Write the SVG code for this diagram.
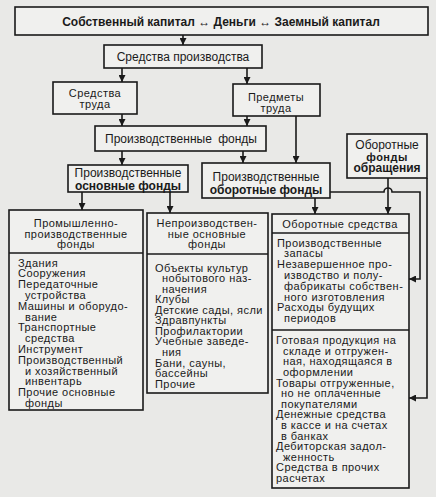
<svg xmlns="http://www.w3.org/2000/svg" width="436" height="497" viewBox="0 0 436 497">
<defs>
<marker id="ah" viewBox="0 0 10 10" refX="10" refY="5" markerWidth="7" markerHeight="7" markerUnits="userSpaceOnUse" orient="auto">
<path d="M0,0 L10,5 L0,10 Z" fill="#1a1a1a"/>
</marker>
<style>
.bx{fill:#f0f0ee;stroke:#1a1a1a;stroke-width:1.6}
.dv{stroke:#1a1a1a;stroke-width:1.3}
.t{font-family:"Liberation Sans",Arial,sans-serif;font-size:12px;fill:#1a1a1a}
.s{font-size:11px;letter-spacing:0.45px}
.b{font-weight:bold}
.c{text-anchor:middle}
.ln{fill:none;stroke:#1a1a1a;stroke-width:1.6}
</style>
</defs>
<rect width="436" height="497" fill="#e9e9e7"/>

<g id="connectors">
<path class="ln" d="M183,35 V45" marker-end="url(#ah)"/>
<path class="ln" d="M122,68 V82" marker-end="url(#ah)"/>
<path class="ln" d="M247,68 V84" marker-end="url(#ah)"/>
<path class="ln" d="M122,114 V126" marker-end="url(#ah)"/>
<path class="ln" d="M247,116 V126" marker-end="url(#ah)"/>
<path class="ln" d="M296,116 V163" marker-end="url(#ah)"/>
<path class="ln" d="M122,151 V165" marker-end="url(#ah)"/>
<path class="ln" d="M243,151 V163" marker-end="url(#ah)"/>
<path class="ln" d="M82,192 V210" marker-end="url(#ah)"/>
<path class="ln" d="M170,192 V213" marker-end="url(#ah)"/>
<path class="ln" d="M315,198 V214" marker-end="url(#ah)"/>
<path class="ln" d="M388,178 V214" marker-end="url(#ah)"/>
<path class="ln" d="M330,192 H384 A4,4 0 0 1 392,192 H420 V279 H409" marker-end="url(#ah)"/>
<path class="ln" d="M427,178 V398 H409" marker-end="url(#ah)"/>
</g>

<g id="top">
<rect class="bx" x="15" y="7" width="413" height="28"/>
<text class="t b c" x="221" y="26" font-size="12.5">Собственный капитал ↔ Деньги ↔ Заемный капитал</text>
</g>

<g id="sredstva-proizvodstva">
<rect class="bx" x="104" y="45" width="158" height="23"/>
<text class="t c" x="183" y="61">Средства производства</text>
</g>

<g id="sredstva-truda">
<rect class="bx" x="53" y="82" width="84" height="32"/>
<text class="t c s" x="95" y="97">Средства</text>
<text class="t c s" x="95" y="108">труда</text>
</g>

<g id="predmety-truda">
<rect class="bx" x="233" y="84" width="87" height="32"/>
<text class="t c s" x="276" y="101">Предметы</text>
<text class="t c s" x="276" y="112">труда</text>
</g>

<g id="proizv-fondy">
<rect class="bx" x="95" y="126" width="171" height="25"/>
<text class="t c" x="181" y="143" word-spacing="3">Производственные фонды</text>
</g>

<g id="proizv-osnovnye">
<rect class="bx" x="68" y="165" width="120" height="27"/>
<text class="t c" x="128" y="177">Производственные</text>
<text class="t b c" x="128" y="190">основные фонды</text>
</g>

<g id="proizv-oborotnye">
<rect class="bx" x="202" y="163" width="128" height="35"/>
<text class="t c" x="266" y="181">Производственные</text>
<text class="t b c" x="266" y="194">оборотные фонды</text>
</g>

<g id="fondy-obrashcheniya">
<rect class="bx" x="347" y="134" width="80" height="44"/>
<text class="t c" x="387" y="149">Оборотные</text>
<text class="t b c s" x="387" y="160.5">фонды</text>
<text class="t b c" x="387" y="172">обращения</text>
</g>

<g id="prom-proizv">
<rect class="bx" x="9" y="210" width="134" height="200"/>
<line class="dv" x1="9" y1="253" x2="143" y2="253"/>
<text class="t c s" x="76" y="227">Промышленно-</text>
<text class="t c s" x="76" y="237.5">производственные</text>
<text class="t c s" x="76" y="248">фонды</text>
<text class="t s" x="18" y="266.5">Здания</text>
<text class="t s" x="18" y="277.3">Сооружения</text>
<text class="t s" x="18" y="288.1">Передаточные</text>
<text class="t s" x="25" y="298.9">устройства</text>
<text class="t s" x="18" y="309.7">Машины и оборудо-</text>
<text class="t s" x="25" y="320.5">вание</text>
<text class="t s" x="18" y="331.3">Транспортные</text>
<text class="t s" x="25" y="342.1">средства</text>
<text class="t s" x="18" y="352.9">Инструмент</text>
<text class="t s" x="18" y="363.7">Производственный</text>
<text class="t s" x="25" y="374.5">и хозяйственный</text>
<text class="t s" x="25" y="385.3">инвентарь</text>
<text class="t s" x="18" y="396.1">Прочие основные</text>
<text class="t s" x="25" y="406.9">фонды</text>
</g>

<g id="neproizv">
<rect class="bx" x="147" y="213" width="121" height="180"/>
<line class="dv" x1="147" y1="254" x2="268" y2="254"/>
<text class="t c s" x="207" y="227">Непроизводствен-</text>
<text class="t c s" x="207" y="237.5">ные основные</text>
<text class="t c s" x="207" y="248">фонды</text>
<text class="t s" x="155" y="271.5">Объекты культур</text>
<text class="t s" x="162" y="282.1">нобытового наз-</text>
<text class="t s" x="162" y="292.7">начения</text>
<text class="t s" x="155" y="303.2">Клубы</text>
<text class="t s" x="155" y="313.8">Детские сады, ясли</text>
<text class="t s" x="155" y="324.3">Здравпункты</text>
<text class="t s" x="155" y="334.9">Профилактории</text>
<text class="t s" x="155" y="345.4">Учебные заведе-</text>
<text class="t s" x="162" y="356">ния</text>
<text class="t s" x="155" y="366.5">Бани, сауны,</text>
<text class="t s" x="155" y="377.1">бассейны</text>
<text class="t s" x="155" y="387.6">Прочие</text>
</g>

<g id="oborotnye-sredstva">
<rect class="bx" x="272" y="214" width="137" height="274"/>
<line class="dv" x1="272" y1="233" x2="409" y2="233"/>
<line class="dv" x1="272" y1="330" x2="409" y2="330"/>
<text class="t c s" x="340" y="228">Оборотные средства</text>
<text class="t s" x="277" y="246.5">Производственные</text>
<text class="t s" x="284" y="257.3">запасы</text>
<text class="t s" x="277" y="268.1">Незавершенное про-</text>
<text class="t s" x="284" y="278.9">изводство и полу-</text>
<text class="t s" x="284" y="289.7">фабрикаты собствен-</text>
<text class="t s" x="284" y="300.5">ного изготовления</text>
<text class="t s" x="277" y="311.3">Расходы будущих</text>
<text class="t s" x="284" y="322.1">периодов</text>
<text class="t s" x="276" y="344">Готовая продукция на</text>
<text class="t s" x="283" y="354.6">складе и отгружен-</text>
<text class="t s" x="283" y="365.2">ная, находящаяся в</text>
<text class="t s" x="283" y="375.8">оформлении</text>
<text class="t s" x="276" y="386.5">Товары отгруженные,</text>
<text class="t s" x="281" y="397.1">но не оплаченные</text>
<text class="t s" x="281" y="407.7">покупателями</text>
<text class="t s" x="276" y="418.3">Денежные средства</text>
<text class="t s" x="281" y="428.9">в кассе и на счетах</text>
<text class="t s" x="281" y="439.5">в банках</text>
<text class="t s" x="276" y="450.2">Дебиторская задол-</text>
<text class="t s" x="283" y="460.8">женность</text>
<text class="t s" x="276" y="471.4">Средства в прочих</text>
<text class="t s" x="276" y="482">расчетах</text>
</g>
</svg>
